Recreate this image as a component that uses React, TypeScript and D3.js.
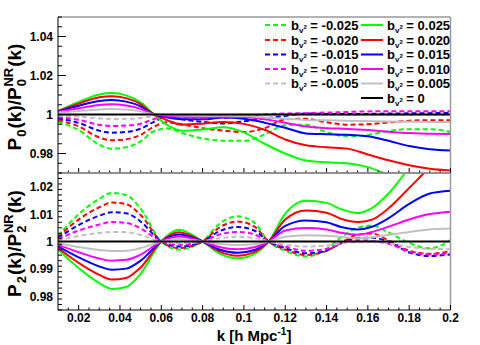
import React, { useRef, useEffect } from 'react';
import * as d3 from 'd3';

const kTop = [0.01, 0.02, 0.03, 0.036, 0.043, 0.05, 0.056, 0.063, 0.07, 0.08, 0.09, 0.1, 0.11, 0.12, 0.13, 0.14, 0.15, 0.16, 0.17, 0.18, 0.19, 0.2];
const kBot = [0.01, 0.02, 0.03, 0.036, 0.043, 0.05, 0.06, 0.0685, 0.08, 0.088, 0.097, 0.105, 0.112, 0.12, 0.13, 0.14, 0.147, 0.155, 0.162, 0.17, 0.18, 0.19, 0.2];

// P0 / P0^NR (top panel)
const p0_m025 = [0.9962, 0.9920, 0.9845, 0.9825, 0.9832, 0.9862, 0.9912, 0.9928, 0.9905, 0.9877, 0.9866, 0.9865, 0.9897, 0.9945, 0.9948, 0.9910, 0.9888, 0.9895, 0.9915, 0.9925, 0.9925, 0.9910];
const p0_m020 = [0.9971, 0.9939, 0.9882, 0.9868, 0.9873, 0.9896, 0.9935, 0.9960, 0.9950, 0.9930, 0.9917, 0.9910, 0.9930, 0.9975, 0.9978, 0.9960, 0.9948, 0.9950, 0.9959, 0.9968, 0.9971, 0.9971];
const p0_m015 = [0.9980, 0.9957, 0.9917, 0.9907, 0.9911, 0.9927, 0.9960, 0.9990, 0.9975, 0.9962, 0.9954, 0.9965, 0.9980, 0.9992, 1.0005, 1.0003, 1.0002, 1.0003, 1.0005, 1.0006, 1.0007, 1.0008];
const p0_m010 = [0.9987, 0.9973, 0.9947, 0.9941, 0.9943, 0.9953, 0.9975, 0.9995, 0.9985, 0.9980, 0.9982, 0.9990, 1.0000, 1.0005, 1.0007, 1.0010, 1.0013, 1.0016, 1.0017, 1.0017, 1.0017, 1.0017];
const p0_m005 = [0.9995, 0.9989, 0.9980, 0.9977, 0.9978, 0.9982, 0.9990, 0.9998, 0.9994, 0.9992, 0.9993, 0.9996, 0.9998, 1.0000, 1.0000, 0.9999, 0.9998, 0.9998, 0.9998, 0.9998, 0.9998, 0.9998];
const p0_p025 = [1.0018, 1.0065, 1.0103, 1.0110, 1.0098, 1.0062, 1.0005, 0.9945, 0.9917, 0.9923, 0.9934, 0.9908, 0.9850, 0.9800, 0.9764, 0.9755, 0.9750, 0.9730, 0.9690, 0.9650, 0.9620, 0.9600];
const p0_p020 = [1.0017, 1.0056, 1.0088, 1.0094, 1.0084, 1.0053, 1.0004, 0.9970, 0.9948, 0.9953, 0.9962, 0.9952, 0.9922, 0.9872, 0.9842, 0.9832, 0.9825, 0.9795, 0.9765, 0.9740, 0.9722, 0.9713];
const p0_p015 = [1.0016, 1.0045, 1.0069, 1.0074, 1.0066, 1.0042, 1.0003, 0.9985, 0.9976, 0.9975, 0.9984, 0.9978, 0.9958, 0.9932, 0.9903, 0.9899, 0.9896, 0.9888, 0.9865, 0.9838, 0.9822, 0.9816];
const p0_p010 = [1.0014, 1.0032, 1.0049, 1.0052, 1.0046, 1.0029, 1.0002, 0.9994, 0.9989, 0.9986, 0.9989, 0.9987, 0.9975, 0.9958, 0.9938, 0.9930, 0.9926, 0.9920, 0.9912, 0.9905, 0.9901, 0.9900];
const p0_p005 = [1.0010, 1.0018, 1.0026, 1.0028, 1.0025, 1.0016, 1.0001, 0.9997, 0.9995, 0.9994, 0.9994, 0.9992, 0.9985, 0.9978, 0.9972, 0.9970, 0.9968, 0.9966, 0.9964, 0.9963, 0.9962, 0.9962];
const p0_zero = [1, 1, 1, 1, 1, 1, 1, 1, 1, 1, 1, 1, 1, 1, 1, 1, 1, 1, 1, 1, 1, 1];

// P2 / P2^NR (bottom panel)
const p2_m025 = [1.0021, 1.0099, 1.0156, 1.0177, 1.0170, 1.0120, 1.0000, 0.9971, 1.0000, 1.0064, 1.0092, 1.0069, 1.0000, 0.9966, 0.9945, 0.9973, 1.0015, 1.0050, 1.0058, 1.0033, 0.9995, 0.9975, 1.0005];
const p2_m020 = [1.0017, 1.0080, 1.0125, 1.0142, 1.0136, 1.0097, 1.0000, 0.9976, 1.0000, 1.0051, 1.0073, 1.0055, 1.0000, 0.9971, 0.9951, 0.9966, 0.9995, 1.0025, 1.0029, 1.0004, 0.9966, 0.9955, 0.9965];
const p2_m015 = [1.0013, 1.0060, 1.0094, 1.0107, 1.0103, 1.0073, 1.0000, 0.9982, 1.0000, 1.0037, 1.0053, 1.0040, 1.0000, 0.9976, 0.9957, 0.9967, 0.9994, 1.0013, 1.0014, 0.9999, 0.9960, 0.9947, 0.9953];
const p2_m010 = [1.0009, 1.0040, 1.0062, 1.0071, 1.0068, 1.0048, 1.0000, 0.9988, 1.0000, 1.0025, 1.0035, 1.0026, 1.0000, 0.9982, 0.9966, 0.9973, 0.9993, 1.0005, 1.0002, 0.9992, 0.9963, 0.9953, 0.9957];
const p2_m005 = [1.0004, 1.0020, 1.0031, 1.0035, 1.0034, 1.0024, 1.0000, 0.9994, 1.0000, 1.0012, 1.0017, 1.0013, 1.0000, 0.9988, 0.9982, 0.9985, 0.9993, 0.9998, 1.0000, 0.9994, 0.9980, 0.9973, 0.9972];
const p2_p025 = [0.9971, 0.9903, 0.9848, 0.9827, 0.9834, 0.9882, 1.0000, 1.0043, 1.0000, 0.9957, 0.9939, 0.9954, 1.0000, 1.0102, 1.0149, 1.0141, 1.0118, 1.0104, 1.0122, 1.0175, 1.0270, 1.0380, 1.0480];
const p2_p020 = [0.9976, 0.9922, 0.9878, 0.9861, 0.9867, 0.9905, 1.0000, 1.0034, 1.0000, 0.9964, 0.9948, 0.9961, 1.0000, 1.0080, 1.0113, 1.0105, 1.0083, 1.0071, 1.0080, 1.0121, 1.0195, 1.0270, 1.0330];
const p2_p015 = [0.9982, 0.9942, 0.9909, 0.9897, 0.9901, 0.9930, 1.0000, 1.0026, 1.0000, 0.9971, 0.9959, 0.9969, 1.0000, 1.0057, 1.0077, 1.0070, 1.0053, 1.0044, 1.0054, 1.0085, 1.0137, 1.0175, 1.0185];
const p2_p010 = [0.9988, 0.9961, 0.9938, 0.9930, 0.9933, 0.9952, 1.0000, 1.0018, 1.0000, 0.9980, 0.9972, 0.9979, 1.0000, 1.0040, 1.0049, 1.0044, 1.0032, 1.0025, 1.0035, 1.0054, 1.0080, 1.0100, 1.0109];
const p2_p005 = [0.9994, 0.9980, 0.9969, 0.9965, 0.9966, 0.9976, 1.0000, 1.0009, 1.0000, 0.9991, 0.9987, 0.9990, 1.0000, 1.0017, 1.0023, 1.0021, 1.0017, 1.0012, 1.0015, 1.0024, 1.0035, 1.0044, 1.0047];
const p2_zero = [1, 1, 1, 1, 1, 1, 1, 1, 1, 1, 1, 1, 1, 1, 1, 1, 1, 1, 1, 1, 1, 1, 1];

const topYTicks = [0.98, 1, 1.02, 1.04];
const botYTicks = [0.98, 0.99, 1, 1.01, 1.02];
const xTicks = [0.02, 0.04, 0.06, 0.08, 0.1, 0.12, 0.14, 0.16, 0.18, 0.2];

const series = [
  { label: '-0.025', color: '#00ff00', dashed: true, p0: p0_m025, p2: p2_m025 },
  { label: '-0.020', color: '#ff0000', dashed: true, p0: p0_m020, p2: p2_m020 },
  { label: '-0.015', color: '#0000ff', dashed: true, p0: p0_m015, p2: p2_m015 },
  { label: '-0.010', color: '#ff00ff', dashed: true, p0: p0_m010, p2: p2_m010 },
  { label: '-0.005', color: '#c0c0c0', dashed: true, p0: p0_m005, p2: p2_m005 },
  { label: '0.025', color: '#00ff00', dashed: false, p0: p0_p025, p2: p2_p025 },
  { label: '0.020', color: '#ff0000', dashed: false, p0: p0_p020, p2: p2_p020 },
  { label: '0.015', color: '#0000ff', dashed: false, p0: p0_p015, p2: p2_p015 },
  { label: '0.010', color: '#ff00ff', dashed: false, p0: p0_p010, p2: p2_p010 },
  { label: '0.005', color: '#c0c0c0', dashed: false, p0: p0_p005, p2: p2_p005 },
  { label: '0', color: '#000000', dashed: false, p0: p0_zero, p2: p2_zero },
];

const FONT = "'Liberation Sans', Arial, Helvetica, sans-serif";

const App = () => {
  const svgRef = useRef<SVGSVGElement>(null);
  const width = 480;
  const height = 345;

  useEffect(() => {
    const svg = d3.select(svgRef.current);
    svg.selectAll('*').remove();

    const left = 58;
    const right = 450.5;
    const x = d3.scaleLinear().domain([0.01, 0.2]).range([left, right]);

    const panels = [
      { key: 'p0', ks: kTop, top: 17, bottom: 173, domain: [0.97, 1.05], major: topYTicks, minor: 0.005 },
      { key: 'p2', ks: kBot, top: 173, bottom: 310, domain: [0.975, 1.025], major: botYTicks, minor: 0.002 },
    ];

    svg.append('rect').attr('width', width).attr('height', height).attr('fill', '#fff');
    const defs = svg.append('defs');

    panels.forEach((p, i) => {
      const y = d3.scaleLinear().domain(p.domain).range([p.bottom, p.top]);
      defs.append('clipPath').attr('id', `clip-${p.key}`)
        .append('rect')
        .attr('x', left).attr('y', p.top)
        .attr('width', right - left).attr('height', p.bottom - p.top);

      const g = svg.append('g').attr('clip-path', `url(#clip-${p.key})`);
      const line = d3.line<number>()
        .x((_, j) => x(p.ks[j]))
        .y(d => y(d))
        .curve(d3.curveMonotoneX);

      series.forEach(s => {
        g.append('path')
          .datum(s[p.key])
          .attr('fill', 'none')
          .attr('stroke', s.color)
          .attr('stroke-width', 2)
          .attr('stroke-dasharray', s.dashed ? '5,3' : null)
          .attr('d', line);
      });

      // frame: grey top/right, black axes
      svg.append('line').attr('x1', left).attr('x2', right).attr('y1', p.top).attr('y2', p.top)
        .attr('stroke', '#999').attr('stroke-width', 1.5);
      svg.append('line').attr('x1', right).attr('x2', right).attr('y1', p.top).attr('y2', p.bottom)
        .attr('stroke', '#999').attr('stroke-width', 1.5);

      const axes = svg.append('g').attr('stroke', '#000').attr('stroke-width', 1);
      axes.append('line').attr('x1', left).attr('x2', left).attr('y1', p.top).attr('y2', p.bottom);
      axes.append('line').attr('x1', left).attr('x2', right).attr('y1', p.bottom).attr('y2', p.bottom);

      // y ticks
      d3.range(p.domain[0], p.domain[1] + 1e-9, p.minor).forEach(v => {
        const isMajor = p.major.some(m => Math.abs(m - v) < 1e-9);
        axes.append('line')
          .attr('x1', left).attr('x2', left + (isMajor ? 8 : 4))
          .attr('y1', y(v)).attr('y2', y(v));
      });
      p.major.forEach(v => {
        svg.append('text')
          .attr('x', 53).attr('y', y(v) + 4.5)
          .attr('text-anchor', 'end')
          .style('font-family', FONT).style('font-size', '12px').style('font-weight', 'bold')
          .text(String(+v.toFixed(3)));
      });

      // x ticks
      d3.range(0.015, 0.2001, 0.005).forEach(v => {
        const isMajor = xTicks.some(m => Math.abs(m - v) < 1e-9);
        axes.append('line')
          .attr('x1', x(v)).attr('x2', x(v))
          .attr('y1', p.bottom).attr('y2', p.bottom - (isMajor ? 5 : 2.5));
      });
      if (i === 1) {
        xTicks.forEach(v => {
          svg.append('text')
            .attr('x', x(v)).attr('y', 322)
            .attr('text-anchor', 'middle')
            .style('font-family', FONT).style('font-size', '12px').style('font-weight', 'bold')
            .text(String(+v.toFixed(3)));
        });
      }

      // rotated y title
      const t = svg.append('text')
        .attr('transform', `translate(21,${(p.top + p.bottom) / 2 + 2}) rotate(-90)`)
        .attr('text-anchor', 'middle')
        .style('font-family', FONT).style('font-size', '19px').style('font-weight', 'bold');
      const idx = i === 0 ? '0' : '2';
      t.append('tspan').text('P');
      t.append('tspan').attr('dx', 1).attr('dy', 5).style('font-size', '13px').text(idx);
      t.append('tspan').attr('dx', 1).attr('dy', -5).text('(k)/P');
      t.append('tspan').attr('dx', 1).attr('dy', 5).style('font-size', '13px').text(idx);
      t.append('tspan').attr('dx', -7.5).attr('dy', -13).style('font-size', '13px').text('NR');
      t.append('tspan').attr('dx', 1).attr('dy', 8).text('(k)');
    });

    // x title
    const xt = svg.append('text')
      .attr('x', 254).attr('y', 341)
      .attr('text-anchor', 'middle')
      .style('font-family', FONT).style('font-size', '15px').style('font-weight', 'bold');
    xt.append('tspan').text('k [h Mpc');
    xt.append('tspan').attr('dy', -6).style('font-size', '10px').text('-1');
    xt.append('tspan').attr('dy', 6).text(']');

    // legend
    const rowY = [25, 40, 54.5, 69, 83.5, 98];
    series.forEach((s, i) => {
      const col = s.dashed ? 0 : 1;
      const row = s.dashed ? i : i - 5;
      const lx = col === 0 ? 265 : 361;
      const cy = rowY[row];
      svg.append('line')
        .attr('x1', lx).attr('x2', lx + 22)
        .attr('y1', cy).attr('y2', cy)
        .attr('stroke', s.color).attr('stroke-width', 2)
        .attr('stroke-dasharray', s.dashed ? '5,3' : null);
      const tx = svg.append('text')
        .attr('x', lx + 26).attr('y', cy + 4.5)
        .style('font-family', FONT).style('font-size', '13px').style('font-weight', 'bold');
      tx.append('tspan').text('b');
      tx.append('tspan').attr('dy', 3).style('font-size', '8px').text('v');
      tx.append('tspan').attr('dy', -4).style('font-size', '6px').text('2');
      tx.append('tspan').attr('dy', 1).text(` = ${s.label}`);
    });
  }, []);

  return (
    <svg
      ref={svgRef}
      width={width}
      height={height}
      style={{ position: 'absolute', left: 0, top: 0 }}
    ></svg>
  );
};

export default App;
